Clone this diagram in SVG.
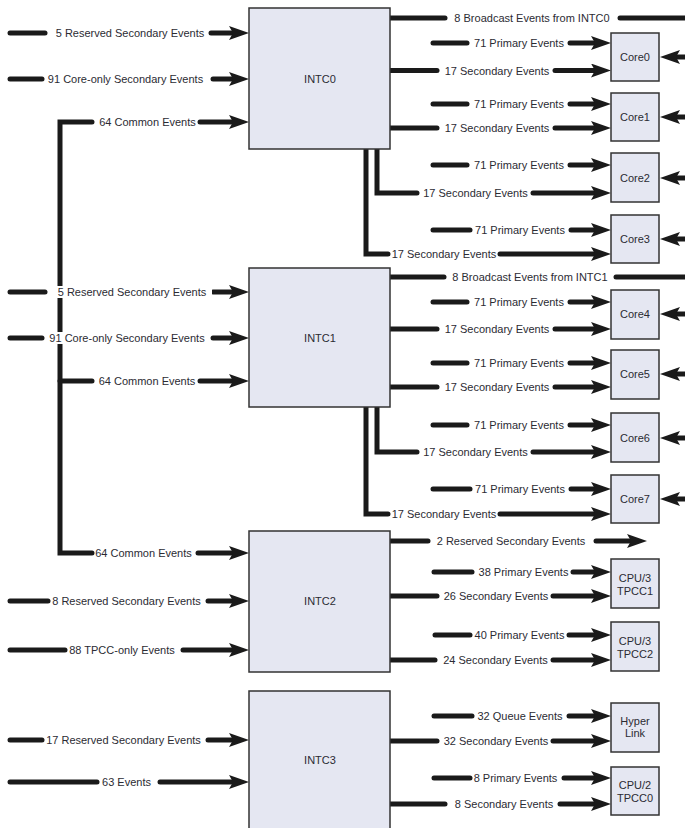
<svg xmlns="http://www.w3.org/2000/svg" width="685" height="828" viewBox="0 0 685 828">
<defs>
<marker id="ah" viewBox="0 0 20 14" markerWidth="20" markerHeight="14" refX="8" refY="7" orient="auto" markerUnits="userSpaceOnUse">
<path d="M0,0 L20,7 L0,14 L4,7 Z" fill="#1a1a1a"/>
</marker>
<style>
.l{fill:none;stroke:#1a1a1a;stroke-width:5;stroke-linecap:round;stroke-linejoin:miter}
.a{marker-end:url(#ah)}
.t{font-family:"Liberation Sans",Arial,sans-serif;font-size:11px;fill:#2b2b33;text-anchor:middle}
.b{fill:#e5e7f2;stroke:#333;stroke-width:1.5}
.bt{font-family:"Liberation Sans",Arial,sans-serif;font-size:11px;fill:#2b2b33;text-anchor:middle}
</style>
</defs>
<rect width="685" height="828" fill="#fff"/>
<g id="connectors">
<!-- left side -->
<path class="l" d="M10,33 H45"/><path class="l a" d="M211,33 H237"/>
<path class="l" d="M10,79 H42"/><path class="l a" d="M213,79 H237"/>
<path class="l" d="M92,122 H60 V553 H92"/><path class="l a" d="M200,122 H237"/>
<path class="l" d="M10,292 H45"/><path class="l a" d="M213,292 H237"/>
<path class="l" d="M10,338 H42"/><path class="l a" d="M213,338 H237"/>
<path class="l" d="M60,381 H92"/><path class="l a" d="M200,381 H237"/>
<path class="l a" d="M198,553 H237"/>
<path class="l" d="M10,601 H48"/><path class="l a" d="M208,601 H237"/>
<path class="l" d="M10,650 H65"/><path class="l a" d="M183,650 H237"/>
<path class="l" d="M10,740 H42"/><path class="l a" d="M208,740 H237"/>
<path class="l" d="M10,782 H97"/><path class="l a" d="M160,782 H237"/>
<rect x="48" y="286" width="164" height="12" fill="#fff"/>
<rect x="46" y="332" width="164" height="12" fill="#fff"/>
<text class="t" x="130" y="37">5 Reserved Secondary Events</text>
<text class="t" x="125.5" y="83">91 Core-only Secondary Events</text>
<text class="t" x="147.5" y="126">64 Common Events</text>
<text class="t" x="132" y="296">5 Reserved Secondary Events</text>
<text class="t" x="127" y="342">91 Core-only Secondary Events</text>
<text class="t" x="147" y="385">64 Common Events</text>
<text class="t" x="143.5" y="557">64 Common Events</text>
<text class="t" x="126.5" y="605">8 Reserved Secondary Events</text>
<text class="t" x="122" y="654">88 TPCC-only Events</text>
<text class="t" x="123.5" y="744">17 Reserved Secondary Events</text>
<text class="t" x="126.5" y="786">63 Events</text>
<!-- INTC0 right -->
<path class="l" d="M390,18 H445"/><path class="l" d="M620,18 H690"/>
<text class="t" x="532" y="22">8 Broadcast Events from INTC0</text>
<path class="l" d="M433,43 H467"/><path class="l a" d="M570,43 H599"/>
<text class="t" x="519" y="47">71 Primary Events</text>
<path class="l" d="M390,70.5 H437"/><path class="l a" d="M555,70.5 H599"/>
<text class="t" x="497" y="74.5">17 Secondary Events</text>
<path class="l a" d="M690,57 H672"/>
<path class="l" d="M433,104 H467"/><path class="l a" d="M570,104 H599"/>
<text class="t" x="519" y="108">71 Primary Events</text>
<path class="l" d="M390,128 H437"/><path class="l a" d="M555,128 H599"/>
<text class="t" x="497" y="132">17 Secondary Events</text>
<path class="l a" d="M690,117 H672"/>
<path class="l" d="M433,165 H467"/><path class="l a" d="M570,165 H599"/>
<text class="t" x="519" y="169">71 Primary Events</text>
<path class="l" d="M377,148 V193 H417"/><path class="l a" d="M533,193 H599"/>
<text class="t" x="475.5" y="197">17 Secondary Events</text>
<path class="l a" d="M690,178 H672"/>
<path class="l" d="M433,230 H470"/><path class="l a" d="M571,230 H599"/>
<text class="t" x="520" y="234">71 Primary Events</text>
<path class="l" d="M366,148 V254 H388"/><path class="l a" d="M500,254 H599"/>
<text class="t" x="444" y="258">17 Secondary Events</text>
<path class="l a" d="M690,239 H672"/>
<!-- INTC1 right -->
<path class="l" d="M390,277 H444"/><path class="l" d="M616,277 H690"/>
<text class="t" x="530" y="281">8 Broadcast Events from INTC1</text>
<path class="l" d="M433,302 H467"/><path class="l a" d="M570,302 H599"/>
<text class="t" x="519" y="306">71 Primary Events</text>
<path class="l" d="M390,329 H437"/><path class="l a" d="M555,329 H599"/>
<text class="t" x="497" y="333">17 Secondary Events</text>
<path class="l a" d="M690,314 H672"/>
<path class="l" d="M433,363 H467"/><path class="l a" d="M570,363 H599"/>
<text class="t" x="519" y="367">71 Primary Events</text>
<path class="l" d="M390,387 H437"/><path class="l a" d="M555,387 H599"/>
<text class="t" x="497" y="391">17 Secondary Events</text>
<path class="l a" d="M690,374 H672"/>
<path class="l" d="M433,425 H467"/><path class="l a" d="M570,425 H599"/>
<text class="t" x="519" y="429">71 Primary Events</text>
<path class="l" d="M377,406 V452 H417"/><path class="l a" d="M533,452 H599"/>
<text class="t" x="475.5" y="456">17 Secondary Events</text>
<path class="l a" d="M690,438 H672"/>
<path class="l" d="M433,489 H470"/><path class="l a" d="M571,489 H599"/>
<text class="t" x="520" y="493">71 Primary Events</text>
<path class="l" d="M366,406 V514 H388"/><path class="l a" d="M500,514 H599"/>
<text class="t" x="444" y="518">17 Secondary Events</text>
<path class="l a" d="M690,499 H672"/>
<!-- INTC2 right -->
<path class="l" d="M390,541 H428"/><path class="l a" d="M596,541 H635"/>
<text class="t" x="511" y="545">2 Reserved Secondary Events</text>
<path class="l" d="M434,572 H472"/><path class="l a" d="M573,572 H599"/>
<text class="t" x="523.5" y="576">38 Primary Events</text>
<path class="l" d="M390,596 H437"/><path class="l a" d="M553,596 H599"/>
<text class="t" x="496" y="600">26 Secondary Events</text>
<path class="l" d="M435,635 H470"/><path class="l a" d="M569,635 H599"/>
<text class="t" x="519.5" y="639">40 Primary Events</text>
<path class="l" d="M390,660 H435"/><path class="l a" d="M553,660 H599"/>
<text class="t" x="495.5" y="664">24 Secondary Events</text>
<!-- INTC3 right -->
<path class="l" d="M434,716 H472"/><path class="l a" d="M569,716 H599"/>
<text class="t" x="520" y="720">32 Queue Events</text>
<path class="l" d="M390,741 H437"/><path class="l a" d="M553,741 H599"/>
<text class="t" x="496" y="745">32 Secondary Events</text>
<path class="l" d="M434,778 H470"/><path class="l a" d="M564,778 H599"/>
<text class="t" x="515.5" y="782">8 Primary Events</text>
<path class="l" d="M390,804 H445"/><path class="l a" d="M560,804 H599"/>
<text class="t" x="504" y="808">8 Secondary Events</text>
</g>
<g id="INTC0"><rect class="b" x="249" y="8" width="141" height="141"/><text class="bt" x="320" y="83">INTC0</text></g>
<g id="INTC1"><rect class="b" x="249" y="268" width="141" height="139"/><text class="bt" x="320" y="342">INTC1</text></g>
<g id="INTC2"><rect class="b" x="249" y="531" width="141" height="141"/><text class="bt" x="320" y="605">INTC2</text></g>
<g id="INTC3"><rect class="b" x="249" y="691" width="141" height="142"/><text class="bt" x="320" y="764">INTC3</text></g>
<g id="Core0"><rect class="b" x="611" y="33" width="48" height="48"/><text class="bt" x="635" y="61">Core0</text></g>
<g id="Core1"><rect class="b" x="611" y="93" width="48" height="48"/><text class="bt" x="635" y="121">Core1</text></g>
<g id="Core2"><rect class="b" x="611" y="153" width="48" height="49"/><text class="bt" x="635" y="182">Core2</text></g>
<g id="Core3"><rect class="b" x="611" y="215" width="48" height="48"/><text class="bt" x="635" y="243">Core3</text></g>
<g id="Core4"><rect class="b" x="611" y="290" width="48" height="49"/><text class="bt" x="635" y="318">Core4</text></g>
<g id="Core5"><rect class="b" x="611" y="350" width="48" height="49"/><text class="bt" x="635" y="378">Core5</text></g>
<g id="Core6"><rect class="b" x="611" y="413" width="48" height="49"/><text class="bt" x="635" y="442">Core6</text></g>
<g id="Core7"><rect class="b" x="611" y="475" width="48" height="48"/><text class="bt" x="635" y="503">Core7</text></g>
<g id="TPCC1"><rect class="b" x="611" y="559" width="48" height="49"/><text class="bt" x="635" y="582">CPU/3</text><text class="bt" x="635" y="595">TPCC1</text></g>
<g id="TPCC2"><rect class="b" x="611" y="622" width="48" height="49"/><text class="bt" x="635" y="645">CPU/3</text><text class="bt" x="635" y="658">TPCC2</text></g>
<g id="HyperLink"><rect class="b" x="611" y="703" width="48" height="49"/><text class="bt" x="635" y="725">Hyper</text><text class="bt" x="635" y="737">Link</text></g>
<g id="TPCC0"><rect class="b" x="611" y="767" width="48" height="48"/><text class="bt" x="635" y="789">CPU/2</text><text class="bt" x="635" y="802">TPCC0</text></g>
</svg>
